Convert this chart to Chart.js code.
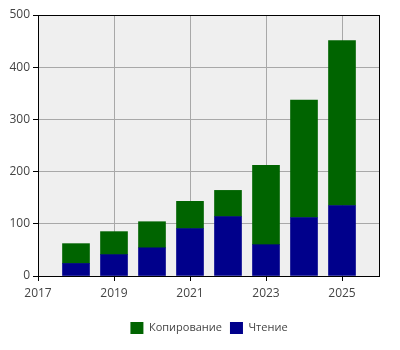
<!DOCTYPE html>
<html>
<head>
<meta charset="utf-8">
<script src="https://cdn.jsdelivr.net/npm/chart.js@4"></script>
<style>
  html, body { margin: 0; padding: 0; background: #fff; }
  #wrap { width: 400px; height: 350px; }
</style>
</head>
<body>
<div id="wrap"><canvas id="canvas"></canvas></div>
<script>
const years = [2018, 2019, 2020, 2021, 2022, 2023, 2024, 2025];
const readValues = [24, 41, 54, 91, 114, 60, 112, 135];
const copyValues = [38, 44, 50, 52, 50, 152, 225, 316];
const xTicks = [2017, 2019, 2021, 2023, 2025];

const toPoints = (vals) => vals.map((v, i) => ({ x: years[i], y: v }));

// plot background and frame
const frame = {
    id: 'frame',
    afterLayout(chart) {
        // centre the legend under the plot area instead of the whole canvas
        const lg = chart.legend;
        const shift = (chart.chartArea.left + chart.chartArea.right) / 2 - (lg.left + lg.right) / 2;
        lg.left += shift;
        lg.right += shift;
    },
    beforeDraw(chart) {
        const { ctx, chartArea: a } = chart;
        ctx.save();
        ctx.fillStyle = '#efefef';
        ctx.fillRect(a.left, a.top, a.right - a.left, a.bottom - a.top);
        ctx.restore();
    },
    afterDraw(chart) {
        const { ctx, chartArea: a } = chart;
        ctx.save();
        ctx.strokeStyle = '#000';
        ctx.lineWidth = 1;
        ctx.strokeRect(a.left + 0.5, a.top + 0.5, a.right - a.left - 1, a.bottom - a.top);
        ctx.restore();
    },
};

Chart.defaults.font.family = '"Open Sans", sans-serif';
Chart.defaults.font.size = 12;
Chart.defaults.color = '#444';

new Chart(document.getElementById('canvas'), {
    type: 'bar',
    data: {
        datasets: [
            {
                label: 'Чтение',
                data: toPoints(readValues),
                backgroundColor: '#00008b',
                barThickness: 27,
            },
            {
                label: 'Копирование',
                data: toPoints(copyValues),
                backgroundColor: '#006400',
                barThickness: 27,
            },
        ],
    },
    options: {
        responsive: true,
        maintainAspectRatio: false,
        animation: false,
        layout: { padding: { top: 15, right: 20, left: 0, bottom: 6 } },
        plugins: {
            tooltip: { enabled: false },
            legend: {
                position: 'bottom',
                reverse: true,
                labels: { boxWidth: 13, boxHeight: 12, padding: 8, color: '#444', font: { size: 11 } },
            },
        },
        scales: {
            x: {
                type: 'linear',
                stacked: true,
                offset: false,
                min: 2017,
                max: 2026,
                afterBuildTicks: (scale) => {
                    scale.ticks = xTicks.map((v) => ({ value: v }));
                },
                afterFit: (scale) => { scale.height = 38; },
                ticks: { callback: (v) => String(v), padding: 5, maxRotation: 0 },
                grid: { offset: false, color: '#a8a8a8', tickColor: '#000', tickLength: 5 },
                border: { display: false },
            },
            y: {
                stacked: true,
                min: 0,
                max: 500,
                afterFit: (scale) => { scale.width = 38; },
                ticks: { stepSize: 100, padding: 3 },
                grid: { color: '#a8a8a8', tickColor: '#000', tickLength: 5 },
                border: { display: false },
            },
        },
    },
    plugins: [frame],
});
</script>
</body>
</html>
